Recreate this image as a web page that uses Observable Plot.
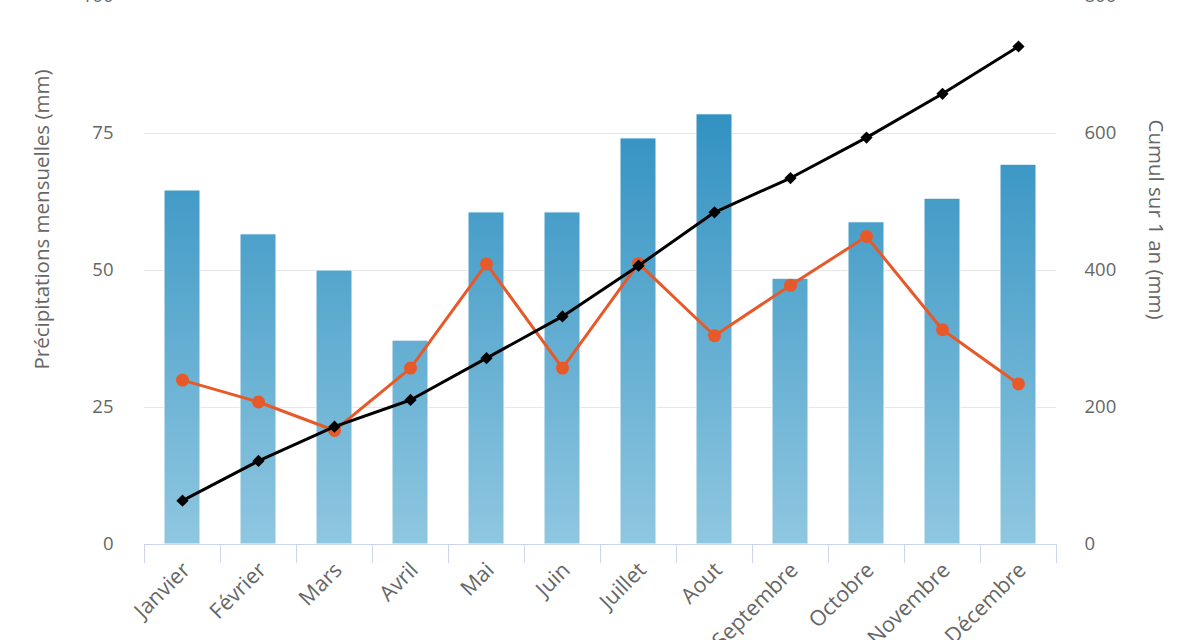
<!DOCTYPE html>
<html><head><meta charset="utf-8">
<script src="https://cdn.jsdelivr.net/npm/d3@7"></script>
<script src="https://cdn.jsdelivr.net/npm/@observablehq/plot@0.6"></script>
<style>body{margin:0;background:#fff;overflow:hidden} svg{display:block}</style>
</head><body><div id="chart"></div>
<script>
const months = ["Janvier","Février","Mars","Avril","Mai","Juin","Juillet","Aout","Septembre","Octobre","Novembre","Décembre"];
const precipMensuelles = [64.6, 56.6, 50.0, 37.2, 60.6, 60.6, 74.1, 78.5, 48.5, 58.8, 63.1, 69.3];
const serieOrange = [30.0, 26.0, 20.8, 32.2, 51.2, 32.2, 51.3, 38.1, 47.3, 56.2, 39.2, 29.3];
const cumulAnnuel = [64, 122, 172, 211, 272, 333, 407, 485, 535, 594, 658, 727];
const leftTicks = [0, 25, 50, 75, 100];
const rightTicks = [0, 200, 400, 600, 800];
const leftTitle = "Précipitations mensuelles (mm)";
const rightTitle = "Cumul sur 1 an (mm)";

const ratio = rightTicks[rightTicks.length-1] / leftTicks[leftTicks.length-1];
const data = months.map((m, i) => ({month: m, precip: precipMensuelles[i], other: serieOrange[i], cumul: cumulAnnuel[i] / ratio}));

const W = 1200, H = 640, mL = 144, mR = 144, mB = 96;
const bw = (W - mL - mR) / months.length;
const pad = 0.526;

const plot = Plot.plot({
  width: W, height: H, marginLeft: mL, marginRight: mR, marginTop: 0, marginBottom: mB,
  style: {fontFamily: "'Open Sans', sans-serif", fontSize: "18.5px", color: "#666", background: "#fff", overflow: "visible"},
  x: {domain: months, paddingInner: pad, paddingOuter: pad / 2, axis: null, label: null},
  y: {domain: [0, 100], range: [H - mB, -4], axis: null, label: null},
  marks: [
    Plot.gridY(leftTicks.slice(1), {stroke: "#e6e6e6", strokeOpacity: 1}),
    Plot.barY(data, {x: "month", y: "precip", fill: "url(#barGrad)", stroke: "#fff", strokeWidth: 1}),
    Plot.ruleY([0], {stroke: "#ccd6eb"}),
    Plot.axisX(months, {tickSize: 19, text: null, dx: -bw / 2, stroke: "#ccd6eb", strokeOpacity: 1}),
    Plot.axisX([months[months.length - 1]], {tickSize: 19, text: null, dx: bw / 2, stroke: "#ccd6eb", strokeOpacity: 1}),
    Plot.text(months, {x: d => d, frameAnchor: "bottom", rotate: -45, textAnchor: "end", lineAnchor: "middle", dy: 22, dx: 4, fill: "#666", fontSize: 21.5, ariaLabel: "xlabels"}),
    Plot.axisY(leftTicks, {anchor: "left", tickSize: 0, tickPadding: 31, label: null, fill: "#666", ariaLabel: "yleft"}),
    Plot.axisY(rightTicks.map(v => v / ratio), {anchor: "right", tickSize: 0, tickPadding: 28, label: null, fill: "#666", tickFormat: d => Math.round(d * ratio), ariaLabel: "yright"}),
    Plot.text([leftTitle], {frameAnchor: "left", rotate: -90, textAnchor: "middle", dx: -102, dy: -53, fontSize: 20.5, fill: "#666", lineAnchor: "middle", ariaLabel: "ltitle"}),
    Plot.text([rightTitle], {frameAnchor: "right", rotate: 90, textAnchor: "middle", dx: 99, dy: -53, fontSize: 20.5, fill: "#666", lineAnchor: "middle", ariaLabel: "rtitle"}),
    Plot.line(data, {x: "month", y: "other", stroke: "#e8592a", strokeWidth: 3}),
    Plot.dot(data, {x: "month", y: "other", r: 6.5, fill: "#e8592a", stroke: "none"}),
    Plot.line(data, {x: "month", y: "cumul", stroke: "#000", strokeWidth: 3}),
    Plot.dot(data, {x: "month", y: "cumul", symbol: "diamond2", r: 5.5, fill: "#000", stroke: "none"})
  ]
});

const ys = plot.scale("y");
const defs = d3.select(plot).insert("defs", ":first-child");
const grad = defs.append("linearGradient").attr("id", "barGrad").attr("gradientUnits", "userSpaceOnUse")
  .attr("x1", 0).attr("x2", 0).attr("y1", ys.apply(100)).attr("y2", ys.apply(0));
grad.append("stop").attr("offset", "0%").attr("stop-color", "#1883b9");
grad.append("stop").attr("offset", "100%").attr("stop-color", "#8fc7e0");

// wide glyphs as in the reference
function stretch(label, s) {
  d3.select(plot).selectAll(`g[aria-label="${label}"] text`).each(function() {
    const t = this.getAttribute("transform") || "";
    if (/^translate\([^)]*\)/.test(t)) this.setAttribute("transform", t.replace(/^(translate\([^)]*\))/, `$1 scale(${s},1)`));
  });
}
stretch("yleft", 1.33);
stretch("yright", 1.33);
stretch("ltitle", 1.2);
stretch("rtitle", 1.25);

document.getElementById("chart").appendChild(plot);
</script>
</body></html>
